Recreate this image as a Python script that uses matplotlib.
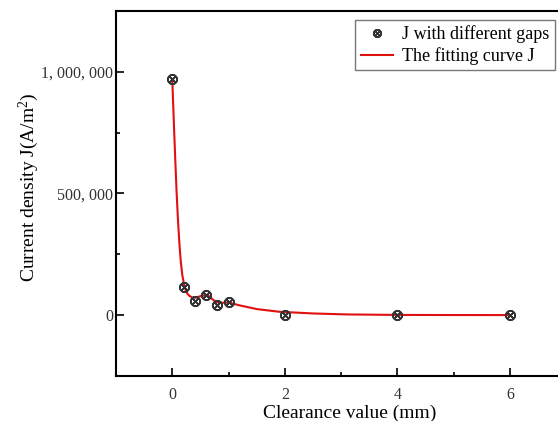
import numpy as np
import matplotlib
matplotlib.use("Agg")
import matplotlib.pyplot as plt
from matplotlib.ticker import FuncFormatter, MultipleLocator

plt.rcParams['font.family'] = ['Liberation Serif', 'DejaVu Serif']
plt.rcParams['mathtext.fontset'] = 'custom'
plt.rcParams['mathtext.rm'] = 'Liberation Serif'
plt.rcParams['mathtext.default'] = 'rm'

# Measured current density at each clearance
gap_mm = [0, 0.2, 0.4, 0.6, 0.8, 1.0, 2, 4, 6]
J_measured = [970000, 115000, 57000, 83000, 43000, 55000, 1000, 500, 300]

# Fitting curve
curve_x = [0, 0.015, 0.03, 0.05, 0.077, 0.1, 0.125, 0.15, 0.18, 0.21, 0.24, 0.27,
           0.30, 0.36, 0.42, 0.5, 0.58, 0.64, 0.7, 0.78, 0.88, 1.0, 1.2, 1.5,
           1.9, 2.5, 3.1, 4, 5, 6]
curve_J = [970000, 870000, 776000, 655000, 503000, 395000, 298000, 222000, 161000,
           126000, 100000, 88000, 80000, 72000, 72000, 78000, 82000, 80000, 68000,
           54000, 51000, 52000, 40000, 25000, 14000, 7000, 3000, 1000, 500, 300]

x_ticks = [0, 2, 4, 6]
y_ticks = [0, 500000, 1000000]

fig = plt.figure(figsize=(5.58, 4.21), dpi=100)
# axes runs past the right edge like the cropped original
ax = fig.add_axes([0.2079, 0.1069, 0.807, 0.867])

ax.plot(curve_x, curve_J, color='#e01010', lw=1.5, label='The fitting curve J', zorder=2)
ax.plot(gap_mm, J_measured, ls='none', marker=r'$\otimes$', ms=7, color='#333333',
        label='J with different gaps', zorder=3)

ax.set_xlim(-1, 7)
ax.set_ylim(-250000, 1250000)
ax.set_xticks(x_ticks)
ax.set_yticks(y_ticks)
ax.xaxis.set_minor_locator(MultipleLocator(1))
ax.yaxis.set_minor_locator(MultipleLocator(250000))
ax.yaxis.set_major_formatter(FuncFormatter(lambda v, p: f'{int(v):,}'.replace(',', ', ')))

ax.tick_params(which='both', direction='in', width=1.2, colors='black', labelcolor='#333333',
               labelsize=11.5)
ax.tick_params(which='major', length=6)
ax.tick_params(which='minor', length=3)
ax.tick_params(axis='x', pad=8)
ax.tick_params(axis='y', pad=2)
for s in ax.spines.values():
    s.set_linewidth(1.5)

ax.set_xlabel('Clearance value (mm)', fontsize=14)
ax.set_ylabel(r'Current density J(A/m$^2$)', fontsize=14)
ax.xaxis.set_label_coords(0.518, -0.078)
ax.yaxis.set_label_coords(-0.166, 0.518)

handles, labels = ax.get_legend_handles_labels()
leg = ax.legend(handles[::-1], labels[::-1], loc='upper left', bbox_to_anchor=(0.531, 0.975),
                fontsize=13, frameon=True, fancybox=False, edgecolor='#555555',
                handlelength=1.8, handletextpad=0.5, borderaxespad=0, borderpad=0.3,
                labelspacing=0.2, markerscale=0.8)
leg.get_frame().set_linewidth(1.0)

fig.savefig('out.png', dpi=100)
